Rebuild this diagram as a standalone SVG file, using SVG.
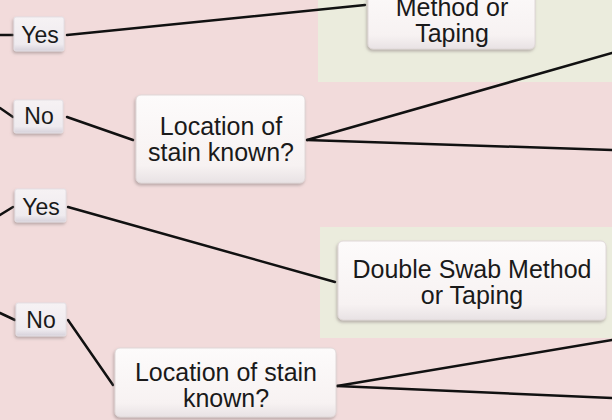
<svg xmlns="http://www.w3.org/2000/svg" width="612" height="420" viewBox="0 0 612 420">
<defs>
<linearGradient id="bg" x1="0" y1="0" x2="0" y2="1">
<stop offset="0" stop-color="#fdfbfb"/>
<stop offset="0.8" stop-color="#f7f2f2"/>
<stop offset="1" stop-color="#e8e2e4"/>
</linearGradient>
<linearGradient id="lg" x1="0" y1="0" x2="0" y2="1">
<stop offset="0" stop-color="#f6f2f4"/>
<stop offset="0.8" stop-color="#efebef"/>
<stop offset="1" stop-color="#d6d1da"/>
</linearGradient>
<filter id="sh" x="-10%" y="-10%" width="120%" height="130%">
<feDropShadow dx="-1" dy="2" stdDeviation="1.5" flood-color="#8a8080" flood-opacity="0.55"/>
</filter>
</defs>
<style>
.box{fill:url(#bg);stroke:#e0d8d8;stroke-width:1;filter:url(#sh)}
.lab{fill:url(#lg);stroke:#e4dfe4;stroke-width:1;filter:url(#sh)}
.t{font-family:"Liberation Sans",Arial,sans-serif;font-size:25px;fill:#1a1a1a;text-anchor:middle}
.tl{font-family:"Liberation Sans",Arial,sans-serif;font-size:23px;fill:#1a1a1a;text-anchor:middle}
.c{stroke:#111;stroke-width:2.5;fill:none;stroke-linecap:round}
</style>
<rect x="0" y="0" width="612" height="420" fill="#f2dbdb"/>
<rect x="318" y="0" width="294" height="82" fill="#ebecdd"/>
<rect x="320" y="227" width="292" height="111" fill="#ebecdd"/>

<g id="connectors">
<line class="c" x1="0" y1="35" x2="13" y2="35"/>
<line class="c" x1="67" y1="35" x2="365" y2="5"/>
<line class="c" x1="0" y1="108" x2="13" y2="117"/>
<line class="c" x1="67" y1="117" x2="133" y2="140"/>
<line class="c" x1="307" y1="140" x2="612" y2="53"/>
<line class="c" x1="307" y1="140" x2="612" y2="150"/>
<line class="c" x1="0" y1="215" x2="13" y2="207"/>
<line class="c" x1="68" y1="207" x2="335" y2="282"/>
<line class="c" x1="0" y1="313" x2="15" y2="320"/>
<line class="c" x1="68" y1="320" x2="113" y2="385"/>
<line class="c" x1="337" y1="386" x2="612" y2="340"/>
<line class="c" x1="337" y1="386" x2="612" y2="398"/>
</g>

<g id="yes1">
<rect class="lab" x="14" y="17" width="50" height="34" rx="2"/>
<text class="tl" x="40" y="43">Yes</text>
</g>
<g id="method1">
<rect class="box" x="368" y="-20" width="167" height="69" rx="5"/>
<text class="t" x="452" y="16">Method or</text>
<text class="t" x="452" y="42">Taping</text>
</g>
<g id="no1">
<rect class="lab" x="14" y="100" width="49" height="33" rx="2"/>
<text class="tl" x="39" y="124">No</text>
</g>
<g id="loc1">
<rect class="box" x="136" y="95" width="169" height="88" rx="5"/>
<text class="t" x="221" y="135">Location of</text>
<text class="t" x="221" y="161">stain known?</text>
</g>
<g id="yes2">
<rect class="lab" x="15" y="189" width="51" height="33" rx="2"/>
<text class="tl" x="41" y="215">Yes</text>
</g>
<g id="method2">
<rect class="box" x="338" y="241" width="268" height="79" rx="5"/>
<text class="t" x="472" y="278">Double Swab Method</text>
<text class="t" x="472" y="304">or Taping</text>
</g>
<g id="no2">
<rect class="lab" x="16" y="303" width="50" height="33" rx="2"/>
<text class="tl" x="41" y="328">No</text>
</g>
<g id="loc2">
<rect class="box" x="115" y="348" width="221" height="69" rx="5"/>
<text class="t" x="226" y="381">Location of stain</text>
<text class="t" x="226" y="407">known?</text>
</g>
</svg>
